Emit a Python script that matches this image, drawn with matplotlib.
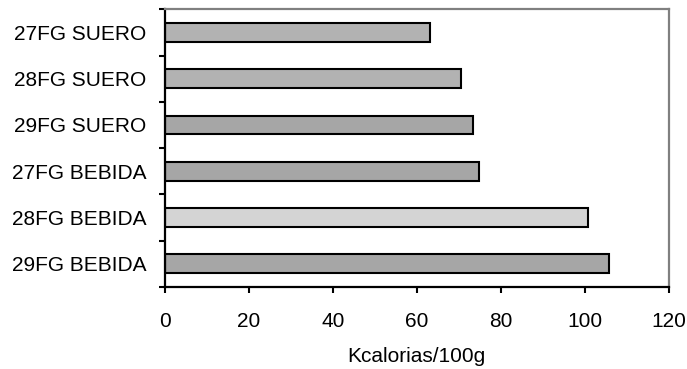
import matplotlib
matplotlib.use("Agg")
import matplotlib.pyplot as plt
import numpy as np

# kcal per 100 g, top row first
LABELS = ["27FG SUERO", "28FG SUERO", "29FG SUERO",
          "27FG BEBIDA", "28FG BEBIDA", "29FG BEBIDA"]
KCAL = [63.2, 70.5, 73.3, 74.9, 100.9, 105.8]
COLORS = ["#b2b2b2", "#b2b2b2", "#a6a6a6", "#a6a6a6", "#d4d4d4", "#a6a6a6"]
XTICKS = [0, 20, 40, 60, 80, 100, 120]

plt.rcParams["font.family"] = ["Liberation Sans", "DejaVu Sans"]
FS = 15

fig = plt.figure(figsize=(6.87, 3.69), dpi=100, facecolor="white")
ax = fig.add_axes([0.2397, 0.2230, 0.9734 - 0.2397, 0.9743 - 0.2230])

n = len(LABELS)
pos = np.arange(n)[::-1]  # first label on top
ax.barh(pos, KCAL, height=0.41, color=COLORS, edgecolor="black",
        linewidth=1.5, zorder=2)

ax.set_xlim(0, 120)
ax.set_ylim(-0.5, n - 0.5)

ax.set_xticks(XTICKS)
ax.set_xticklabels([str(v) for v in XTICKS], fontsize=FS)
ax.tick_params(axis="x", direction="out", length=4, width=1.5, pad=14)

# tick marks between categories, labels at the bar centres
ax.set_yticks(np.arange(-0.5, n, 1.0))
ax.set_yticklabels([])
ax.tick_params(axis="y", which="major", direction="out", length=4, width=1.5)
ax.set_yticks(pos, minor=True)
ax.set_yticklabels(LABELS, minor=True, fontsize=FS)
ax.tick_params(axis="y", which="minor", length=0, pad=13)

for side in ("left", "bottom"):
    ax.spines[side].set_color("black")
    ax.spines[side].set_linewidth(1.6)
for side in ("top", "right"):
    ax.spines[side].set_color("#808080")
    ax.spines[side].set_linewidth(1.6)

ax.set_xlabel("Kcalorias/100g", fontsize=FS, labelpad=12)

fig.savefig("out.png", dpi=100, facecolor="white")
